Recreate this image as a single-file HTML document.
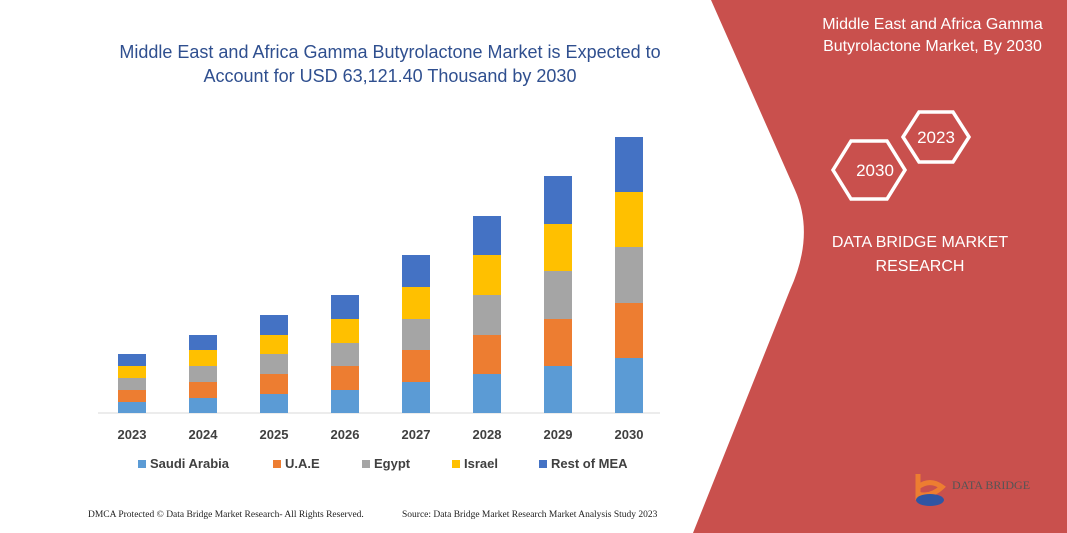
<!DOCTYPE html>
<html><head><style>
body{margin:0;width:1067px;height:533px;overflow:hidden;background:#fff;font-family:"Liberation Sans",sans-serif;position:relative}
.t{position:absolute;white-space:nowrap}
</style></head><body>
<svg width="1067" height="533" style="position:absolute;left:0;top:0">
<path d="M711,0 L1067,0 L1067,533 L693,533 L790,290 Q815,235 795,190 Z" fill="#c9504d"/>
<g fill="none" stroke="#fff" stroke-width="3.5">
<polygon points="833,170 851,141 887,141 905,170 887,199 851,199"/>
<polygon points="903,137 919,112 953,112 969,137 953,162 919,162"/>
</g>
<text x="875" y="176" fill="#fff" font-size="17" text-anchor="middle" font-family="Liberation Sans,sans-serif">2030</text>
<text x="936" y="143" fill="#fff" font-size="17" text-anchor="middle" font-family="Liberation Sans,sans-serif">2023</text>
<line x1="98" y1="413" x2="660" y2="413" stroke="#d9d9d9" stroke-width="1"/>
<g id="bars"></g>
<g font-family="Liberation Sans,sans-serif" font-size="13" font-weight="bold" fill="#404040" text-anchor="middle">
<text x="132" y="439">2023</text><text x="203" y="439">2024</text><text x="274" y="439">2025</text><text x="345" y="439">2026</text><text x="416" y="439">2027</text><text x="487" y="439">2028</text><text x="558" y="439">2029</text><text x="629" y="439">2030</text>
</g>
<g font-family="Liberation Sans,sans-serif" font-size="13" font-weight="bold" fill="#404040">
<rect x="138" y="460" width="8" height="8" fill="#5b9bd5"/><text x="150" y="468">Saudi Arabia</text>
<rect x="273" y="460" width="8" height="8" fill="#ed7d31"/><text x="285" y="468">U.A.E</text>
<rect x="362" y="460" width="8" height="8" fill="#a5a5a5"/><text x="374" y="468">Egypt</text>
<rect x="452" y="460" width="8" height="8" fill="#ffc000"/><text x="464" y="468">Israel</text>
<rect x="539" y="460" width="8" height="8" fill="#4472c4"/><text x="551" y="468">Rest of MEA</text>
</g>
<path d="M918,474 L918,500 M918,487 Q930,478 942,487 Q930,498 918,494" stroke="#ed7d31" stroke-width="5" fill="none"/>
<ellipse cx="930" cy="500" rx="14" ry="6" fill="#2f55a4"/>
<text x="952" y="489" fill="#555" font-size="12" font-family="Liberation Serif,serif">DATA BRIDGE</text>
</svg>
<div class="t" style="left:110px;top:40px;width:560px;text-align:center;color:#2f4f8f;font-size:18px;line-height:24px">Middle East and Africa Gamma Butyrolactone Market is Expected to<br>Account for USD 63,121.40 Thousand by 2030</div>
<div class="t" style="left:800px;top:14px;width:265px;text-align:center;color:#fff;font-size:16px;line-height:22px">Middle East and Africa Gamma<br>Butyrolactone Market, By 2030</div>
<div class="t" style="left:820px;top:231px;width:200px;text-align:center;color:#fff;font-size:16px;line-height:24px">DATA BRIDGE MARKET<br>RESEARCH</div>
<div class="t" style="left:88px;top:510px;font-size:9.5px;color:#222;font-family:'Liberation Serif',serif">DMCA Protected © Data Bridge Market Research- All Rights Reserved.</div>
<div class="t" style="left:402px;top:510px;font-size:9.5px;color:#222;font-family:'Liberation Serif',serif">Source: Data Bridge Market Research Market Analysis Study 2023</div>
<script>
var tops=[[354,366,378,390,402],[335,350,366,382,398],[315,335,354,374,394],[295,319,343,366,390],[255,287,319,350,382],[216,255,295,335,374],[176,224,271,319,366],[137,192,247,303,358]];
var cols=["#4472c4","#ffc000","#a5a5a5","#ed7d31","#5b9bd5"];
var s="";
tops.forEach(function(t,i){var x=118+i*71;var b=t.concat([413]);for(var k=0;k<5;k++){s+='<rect x="'+x+'" y="'+b[k]+'" width="28" height="'+(b[k+1]-b[k])+'" fill="'+cols[k]+'"/>';}});
document.getElementById("bars").innerHTML=s;
</script>
</body></html>
